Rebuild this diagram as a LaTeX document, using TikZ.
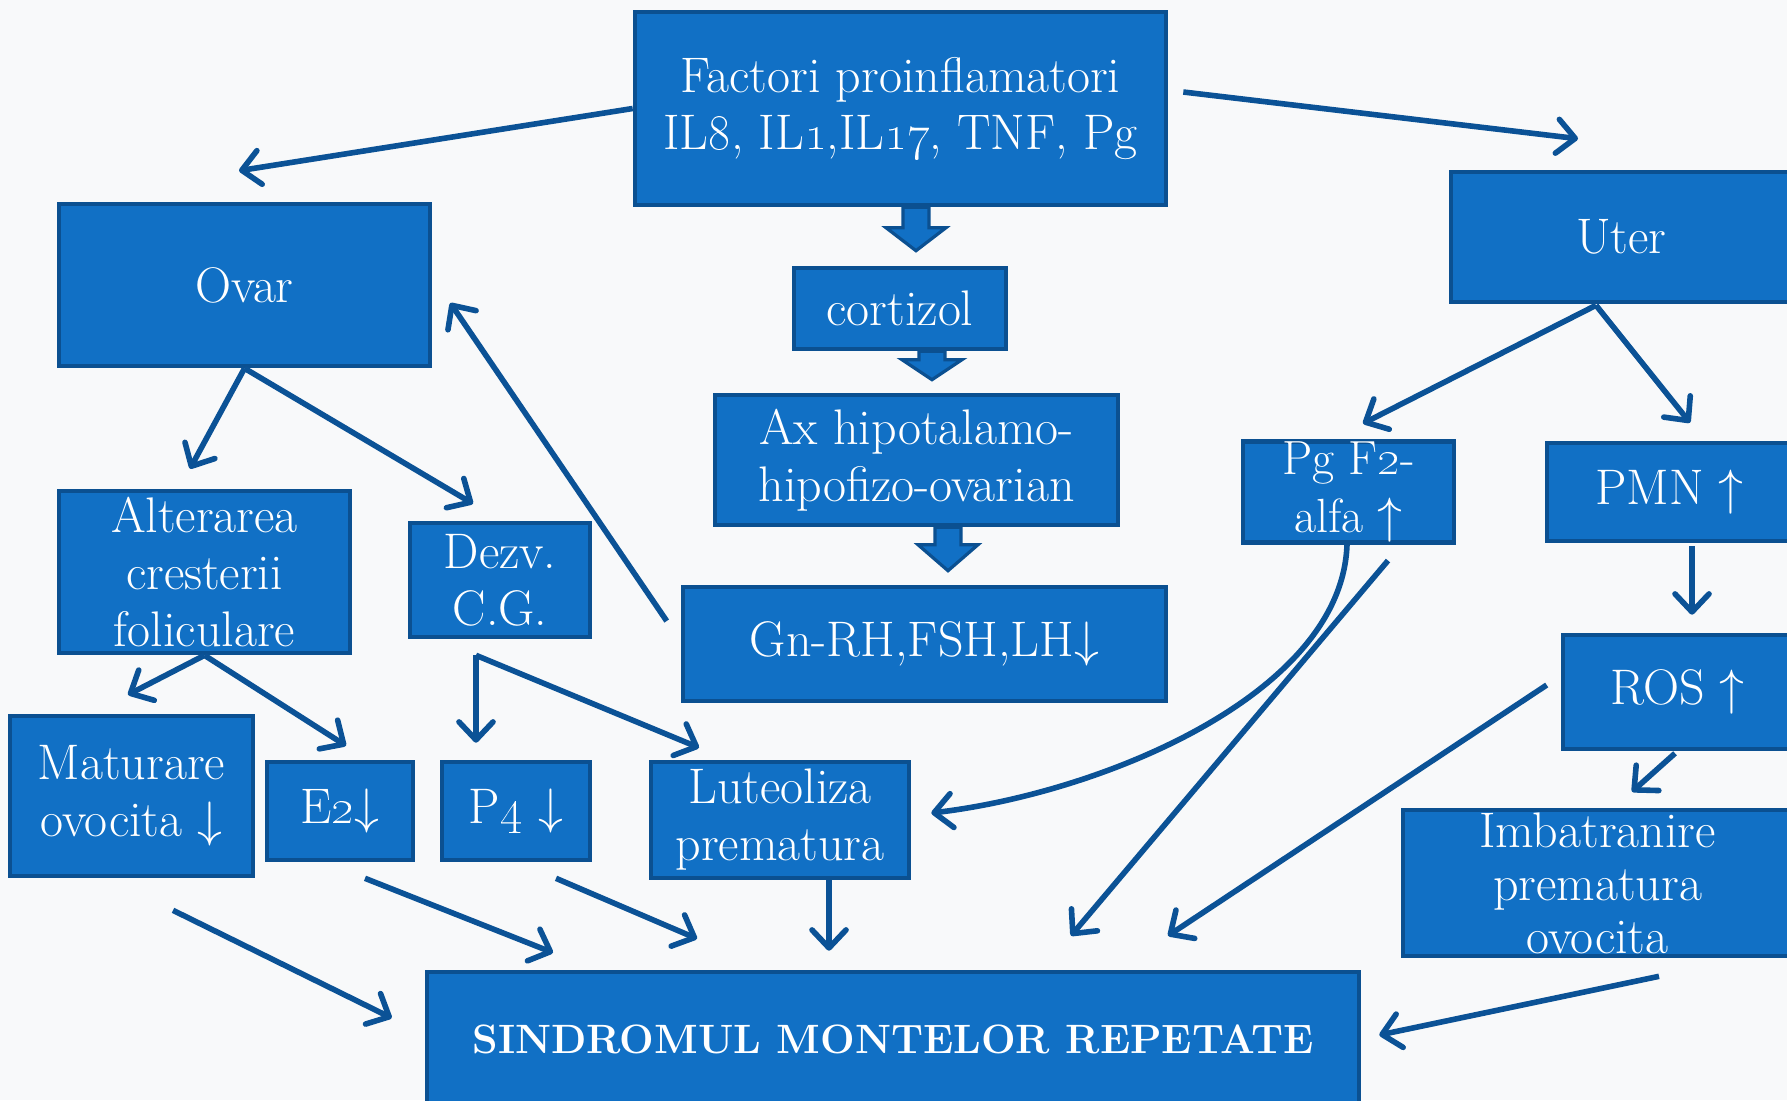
\documentclass[tikz,border=0pt]{standalone}
\usepackage{amsmath,amssymb}
\usetikzlibrary{arrows.meta,calc}
\definecolor{boxblue}{RGB}{17,112,197}
\definecolor{bordblue}{RGB}{11,80,145}
\definecolor{arrblue}{RGB}{11,82,150}
\definecolor{bgwhite}{RGB}{248,249,250}

\begin{document}
\begin{tikzpicture}[x=0.5pt,y=-0.5pt]
\useasboundingbox (0,0) rectangle (1787,1100);
\clip (0,0) rectangle (1787,1100);
\fill[bgwhite] (0,0) rectangle (1787,1100);
\begin{scope}[every node/.style={rectangle,draw=bordblue,fill=boxblue,line width=2.3pt,
      text=white,align=center,inner sep=0pt,font=\fontsize{25}{28.5}\selectfont}]
    \node[minimum width=265.5pt,minimum height=96.5pt] (fact) at (900.5,108.5) {Factori proinflamatori\\IL\oldstylenums{8}, IL\oldstylenums{1},IL\oldstylenums{17}, TNF, Pg};
    \node[minimum width=185.5pt,minimum height=81pt] (ovar) at (244.5,285) {Ovar};
    \node[minimum width=170.5pt,minimum height=65pt] (uter) at (1621.5,237) {Uter};
    \node[minimum width=106pt,minimum height=40.5pt] (cort) at (900,308.5) {cortizol};
    \node[minimum width=201.5pt,minimum height=65pt] (ax) at (916.5,460) {Ax hipotalamo-\\hipofizo-ovarian};
    \node[minimum width=241.5pt,minimum height=57pt] (gn) at (924.5,644) {Gn-RH,FSH,LH$\downarrow$};
    \node[minimum width=145.5pt,minimum height=81pt] (alt) at (204.5,572) {Alterarea\\cresterii\\foliculare};
    \node[minimum width=90pt,minimum height=57pt] (dezv) at (500,580) {Dezv.\\C.G.};
    \node[minimum width=105.5pt,minimum height=49pt,font=\fontsize{24}{29}\selectfont] (pgf) at (1348.5,492) {Pg F\oldstylenums{2}-\\alfa $\uparrow$};
    \node[minimum width=122.5pt,minimum height=49pt] (pmn) at (1669.5,492) {PMN $\uparrow$};
    \node[minimum width=114.5pt,minimum height=57pt] (ros) at (1677.5,692) {ROS $\uparrow$};
    \node[minimum width=194.5pt,minimum height=73pt,font=\fontsize{25}{26.5}\selectfont] (imb) at (1597.5,883) {Imbatranire\\prematura\\ovocita};
    \node[minimum width=121.5pt,minimum height=80pt] (mat) at (131.5,796) {Maturare\\ovocita $\downarrow$};
    \node[minimum width=73pt,minimum height=49pt] (etwo) at (340,811) {E\oldstylenums{2}$\downarrow$};
    \node[minimum width=74pt,minimum height=49pt] (pfour) at (516,811) {P\oldstylenums{4} $\downarrow$};
    \node[minimum width=129pt,minimum height=58pt] (lut) at (780,820) {Luteoliza\\prematura};
    \node[minimum width=466pt,minimum height=67pt,font=\fontsize{20.5}{24}\selectfont\bfseries] (sind) at (893,1039) {SINDROMUL MONTELOR REPETATE};
\end{scope}
% block arrows down the middle column
\coordinate (fc1) at ($(fact.south)+(15.5,0)$);
\coordinate (fc2) at ($(cort.north)+(16,-15)$);
\coordinate (ca1) at ($(cort.south)+(32,0)$);
\coordinate (ca2) at ($(ax.north)+(15.5,-13)$);
\coordinate (ag1) at ($(ax.south)+(31.5,0)$);
\coordinate (ag2) at ($(gn.north)+(23.5,-14)$);
\begin{scope}[fatarrow/.style={draw=bordblue,fill=boxblue,line width=1.6pt,line join=miter}]
    \foreach \s/\t/\h in {fc1/fc2/23, ca1/ca2/20, ag1/ag2/26}
        \draw[fatarrow] ($(\s)+(-13,0)$) -- ($(\s)+(13,0)$) -- ($(\t)+(13,-\h)$) -- ($(\t)+(30,-\h)$)
            -- (\t) -- ($(\t)+(-30,-\h)$) -- ($(\t)+(-13,-\h)$) -- cycle;
\end{scope}
\begin{scope}[arr/.style={draw=arrblue,line width=2.8pt,-{Straight Barb[round,length=9pt,width=17pt]}},
              every edge/.style={arr}]
    \path (fact.west) edge ($(ovar.north)+(-5.5,-31)$);
    \path ($(fact.east)+(15,-16.5)$) edge ($(uter.north)+(-43.5,-31)$);
    \path (ovar.south) edge ($(alt.north)+(-14.5,-20)$);
    \path (ovar.south) edge ($(dezv.north)+(-27,-17)$);
    \path ($(gn.west)+(-14,-23)$) edge ($(ovar.east)+(18,18)$);
    \path (alt.south) edge ($(mat.north)+(-3.5,-19)$);
    \path (alt.south) edge ($(etwo.north)+(6,-14)$);
    \path ($(dezv.south)+(-24,16)$) edge ($(pfour.north)+(-40,-17)$);
    \path ($(dezv.south)+(-24,16)$) edge ($(lut.north)+(-81,-12)$);
    \path ($(mat.south)+(41.5,32)$) edge ($(sind.west)+(-33,-21)$);
    \path ($(etwo.south)+(25,16)$) edge ($(sind.north)+(-340,-17)$);
    \path ($(pfour.south)+(40,16)$) edge ($(sind.north)+(-196,-31)$);
    \path ($(lut.south)+(49,0)$) edge ($(sind.north)+(-64,-19)$);
    \draw[arr] ($(pgf.south)+(-1.5,0)$) .. controls +(-5,150) and +(170,-20) .. ($(lut.east)+(20,-7)$);
    \path ($(pgf.south)+(39.5,16)$) edge ($(sind.north)+(178,-34)$);
    \path ($(uter.south)+(-25.5,1)$) edge ($(pgf.north)+(14.5,-16)$);
    \path ($(uter.south)+(-25.5,1)$) edge ($(pmn.north)+(20.5,-18)$);
    \path ($(pmn.south)+(22.5,3)$) edge ($(ros.north)+(14.5,-18)$);
    \path ($(ros.west)+(-14,-7)$) edge ($(sind.north)+(275,-34)$);
    \path ($(ros.south)+(-2.5,2)$) edge ($(imb.north)+(34.5,-16)$);
    \path ($(imb.south)+(61.5,18)$) edge ($(sind.east)+(18,-4)$);
\end{scope}
\end{tikzpicture}
\end{document}
